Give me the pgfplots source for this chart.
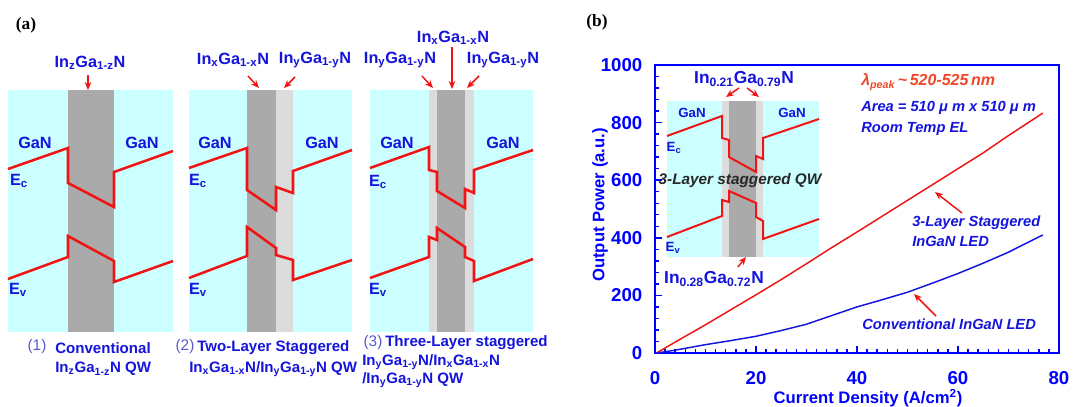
\documentclass[border=0pt]{standalone}
\usepackage{pgfplots}
\pgfplotsset{compat=1.18}
\usepackage{fontspec}
\setmainfont{Liberation Sans}
\newfontfamily\serifb{Liberation Serif}
\usetikzlibrary{arrows.meta}
\definecolor{bgcyan}{RGB}{204,255,255}
\definecolor{dgrey}{RGB}{170,170,170}
\definecolor{lgrey}{RGB}{220,220,220}
\definecolor{bred}{RGB}{240,20,20}
\definecolor{tblue}{RGB}{20,20,220}
\definecolor{ablue}{RGB}{0,0,255}
\definecolor{pblue}{RGB}{90,90,210}
\definecolor{lorange}{RGB}{240,70,40}
\definecolor{dtext}{RGB}{40,40,40}
\newcommand{\sub}[1]{\textsubscript{#1}}
\tikzset{
  lbl/.style={font=\fontsize{12.2}{14}\selectfont\bfseries, text=tblue, inner sep=0pt},
  slbl/.style={font=\fontsize{10}{12}\selectfont\bfseries, text=tblue, inner sep=0pt},
  captx/.style={font=\fontsize{11.3}{13}\selectfont\bfseries, text=tblue, inner sep=0pt, anchor=west},
  num/.style={font=\fontsize{11.5}{13}\selectfont, text=pblue, inner sep=0pt},
  arr/.style={-{Stealth[length=6pt,width=5pt]}, bred, line width=1.1pt},
  band/.style={bred, line width=1.9pt, line join=miter},
  iband/.style={bred, line width=1.5pt, line join=miter},
  ann/.style={font=\fontsize{11}{13}\selectfont\bfseries\itshape, text=tblue, inner sep=0pt, anchor=west},
  axlbl/.style={font=\fontsize{12.5}{15}\selectfont\bfseries, text=ablue, inner sep=0pt},
}
\begin{document}
\begin{tikzpicture}
% ---------------- background / panel (a) in pixel coordinates ----------------
\begin{axis}[
  at={(0,0)}, anchor=south west,
  scale only axis, width=806.25pt, height=305.25pt,
  xmin=0, xmax=1075, ymin=0, ymax=407, y dir=reverse,
  hide axis, clip=false, no markers]
\addplot[fill=white, draw=none] coordinates {(0,0)(1075,0)(1075,407)(0,407)} --cycle;
% diagram 1
\addplot[fill=bgcyan, draw=none] coordinates {(8,90)(173,90)(173,332)(8,332)} --cycle;
\addplot[fill=dgrey, draw=none] coordinates {(68,90)(114,90)(114,332)(68,332)} --cycle;
\addplot[band] coordinates {(8,169)(68,148)(68,183)(114,207)(114,172)(173,151)};
\addplot[band] coordinates {(8,279)(68,257)(68,236)(114,261)(114,282)(173,261)};
% diagram 2
\addplot[fill=bgcyan, draw=none] coordinates {(189,90)(352,90)(352,332)(189,332)} --cycle;
\addplot[fill=dgrey, draw=none] coordinates {(247,90)(276,90)(276,332)(247,332)} --cycle;
\addplot[fill=lgrey, draw=none] coordinates {(276,90)(293,90)(293,332)(276,332)} --cycle;
\addplot[band] coordinates {(189,168)(247,148)(247,190)(276,210)(276,187)(293,193)(293,171)(352,150)};
\addplot[band] coordinates {(189,278)(247,256)(247,227)(276,248)(276,255)(293,260)(293,280)(352,260)};
% diagram 3
\addplot[fill=bgcyan, draw=none] coordinates {(370,90)(533,90)(533,332)(370,332)} --cycle;
\addplot[fill=lgrey, draw=none] coordinates {(429,90)(474,90)(474,332)(429,332)} --cycle;
\addplot[fill=dgrey, draw=none] coordinates {(437,90)(465,90)(465,332)(437,332)} --cycle;
\addplot[band] coordinates {(370,168)(429,147)(429,170)(437,172)(437,191)(465,208)(465,189)(474,193)(474,170)(533,150)};
\addplot[band] coordinates {(370,278)(429,257)(429,237)(437,240)(437,228)(465,247)(465,257)(474,261)(474,281)(533,259)};
% inset of panel (b)
\addplot[fill=bgcyan, draw=none] coordinates {(667,101)(819,101)(819,257)(667,257)} --cycle;
\addplot[fill=lgrey, draw=none] coordinates {(722,101)(763,101)(763,257)(722,257)} --cycle;
\addplot[fill=dgrey, draw=none] coordinates {(729,101)(756,101)(756,257)(729,257)} --cycle;
\addplot[iband] coordinates {(667,136)(722,116)(722,138)(729,140)(729,157)(756,172)(756,156)(763,159)(763,138)(819,119)};
\addplot[iband] coordinates {(667,237)(722,216)(722,200)(729,202)(729,191)(756,203)(756,217)(763,221)(763,239)(819,219)};

% ---- texts panel (a)
\node[font=\serifb\fontsize{13}{15}\selectfont\bfseries, inner sep=0pt] at (26,25) {(a)};
\node[font=\serifb\fontsize{13}{15}\selectfont\bfseries, inner sep=0pt] at (597,22) {(b)};
% diagram 1
\node[lbl] at (90,63) {In\sub{z}Ga\sub{1-z}N};
\draw[arr] (88,75) -- (88,90);
\node[lbl] at (35,143) {GaN};
\node[lbl] at (142,143) {GaN};
\node[lbl] at (19,181) {E\sub{c}};
\node[lbl] at (18,290) {E\sub{v}};
\node[num] at (37,347) {(1)};
\node[captx] at (55,348) {Conventional};
\node[captx] at (55,369) {In\sub{z}Ga\sub{1-z}N QW};
% diagram 2
\node[lbl] at (233,60) {In\sub{x}Ga\sub{1-x}N};
\node[lbl] at (315,60) {In\sub{y}Ga\sub{1-y}N};
\draw[arr] (248,76) -- (259,88);
\draw[arr] (295,77) -- (284,88);
\node[lbl] at (215,143) {GaN};
\node[lbl] at (322,143) {GaN};
\node[lbl] at (198,181) {E\sub{c}};
\node[lbl] at (198,290) {E\sub{v}};
\node[num] at (185,347) {(2)};
\node[captx] at (197,348) {Two-Layer Staggered};
\node[captx] at (189,369) {In\sub{x}Ga\sub{1-x}N/In\sub{y}Ga\sub{1-y}N QW};
% diagram 3
\node[lbl] at (453,38) {In\sub{x}Ga\sub{1-x}N};
\node[lbl] at (400,60) {In\sub{y}Ga\sub{1-y}N};
\node[lbl] at (503,60) {In\sub{y}Ga\sub{1-y}N};
\draw[arr] (452,47) -- (452,89);
\draw[arr] (422,76) -- (433,88);
\draw[arr] (479,76) -- (467,88);
\node[lbl] at (397,143) {GaN};
\node[lbl] at (503,143) {GaN};
\node[lbl] at (378,182) {E\sub{c}};
\node[lbl] at (378,290) {E\sub{v}};
\node[num] at (373,343) {(3)};
\node[captx] at (385,343) {Three-Layer staggered};
\node[captx] at (362,362) {In\sub{y}Ga\sub{1-y}N/In\sub{x}Ga\sub{1-x}N};
\node[captx] at (362,380) {/In\sub{y}Ga\sub{1-y}N QW};
% ---- texts inset (b)
\node[lbl, font=\fontsize{13}{15}\selectfont\bfseries] at (744,79) {In\sub{0.21}Ga\sub{0.79}N};
\draw[arr] (739,88) -- (726,97);
\draw[arr] (747,88) -- (759,97);
\node[slbl] at (692,113) {GaN};
\node[slbl] at (792,113) {GaN};
\node[slbl] at (674,148) {E\sub{c}};
\node[slbl] at (673,248) {E\sub{v}};
\node[font=\fontsize{11.5}{13}\selectfont\bfseries\itshape, text=dtext, inner sep=0pt] at (740,181) {3-Layer staggered QW};
\node[lbl, font=\fontsize{13}{15}\selectfont\bfseries] at (714,279) {In\sub{0.28}Ga\sub{0.72}N};
\draw[arr] (738,267) -- (746,257);
% ---- annotations panel (b)
\node[ann, text=lorange, font=\fontsize{12}{14}\selectfont\bfseries\itshape] at (861,82) {λ\sub{peak}\,\textasciitilde\,520-525\,nm};
\node[ann] at (861,108) {Area = 510 μ m x 510 μ m};
\node[ann] at (861,129) {Room Temp EL};
\node[ann] at (912,223) {3-Layer Staggered};
\node[ann] at (912,241) {InGaN LED};
\node[ann] at (862,324) {Conventional InGaN LED};
\draw[arr] (962,213) -- (935,192);
\draw[arr] (936,316) -- (914,294);
% axis titles of panel (b)
\node[axlbl, rotate=90] at (600,205) {Output Power (a.u.)};
\node[axlbl, anchor=base] at (868,403) {Current Density (A/cm\textsuperscript{2})};
\coordinate (O) at (655,353);
\coordinate (BL) at (0,407);
\coordinate (TR) at (1075,0);
\end{axis}

% ---------------- panel (b) data axis ----------------
\begin{axis}[
  at={(O)}, anchor=south west,
  scale only axis, width=303pt, height=216pt,
  xmin=0, xmax=80, ymin=0, ymax=1000,
  xtick={0,20,...,80}, ytick={0,200,...,1000},
  minor x tick num=9, minor y tick num=4,
  xtick pos=bottom, ytick pos=left,
  tick align=inside,
  major tick length=5pt, minor tick length=3pt,
  axis line style={ablue, line width=1.6pt},
  every tick/.style={ablue, line width=1.1pt},
  tick label style={font=\fontsize{14}{16}\selectfont\bfseries, text=ablue},
  /pgf/number format/assume math mode=true,
  /pgf/number format/set thousands separator={},
  xticklabel style={yshift=-10.5pt},
  yticklabel style={xshift=-6pt},
  no markers, clip=false]
\addplot[bred, line width=1.1pt] coordinates {
(0.3,0) (5,48) (10,98) (15,150) (20,202) (25,255) (30,310) (35,366) (40,420)
(45,475) (50,530) (55,585) (60,640) (65,695) (70,755) (76.8,833)};
\addplot[tblue, line width=1.1pt] coordinates {
(0.3,0) (3,7) (5,13) (7.5,21) (10,29) (15,43) (20,58) (25,78) (30,100) (35,130)
(40,160) (45,185) (50,211) (55,243) (60,276) (65,312) (70,350) (76.8,410)};
\end{axis}
\pgfresetboundingbox
\useasboundingbox (BL) rectangle (TR);
\end{tikzpicture}
\end{document}
